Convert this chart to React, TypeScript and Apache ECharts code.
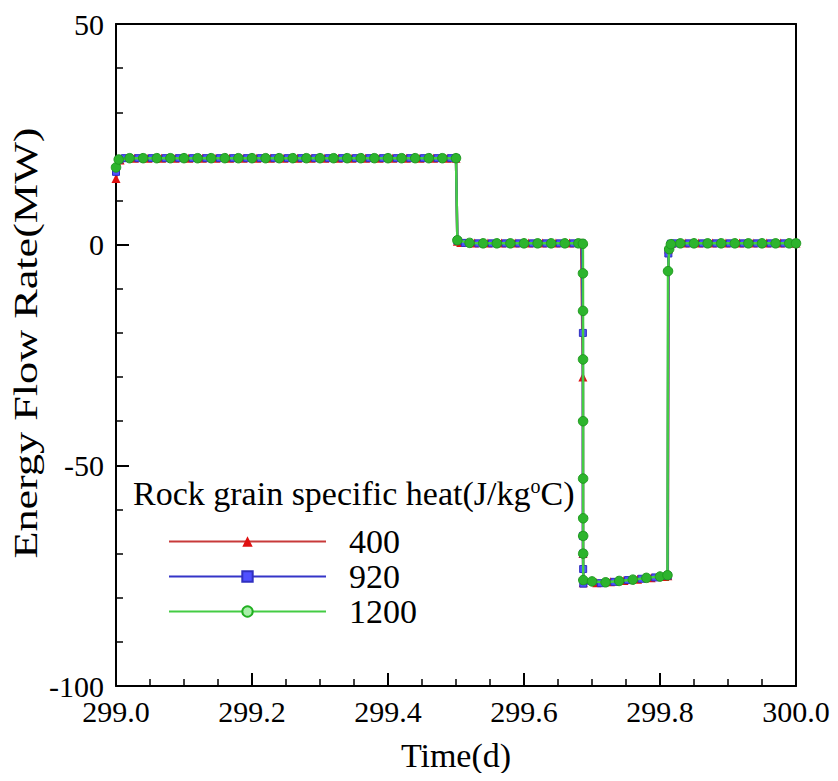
import React, { useEffect, useRef } from "react";
import * as echarts from "echarts";

// Rock grain specific heat = 400 J/kg°C
const t400 = [
  299.0, 299.006, 299.027, 299.047, 299.067, 299.087, 299.107, 299.127, 299.147, 299.167, 299.187,
  299.207, 299.227, 299.247, 299.267, 299.287, 299.307, 299.327, 299.347, 299.367, 299.387,
  299.407, 299.427, 299.447, 299.467, 299.487, 299.5, 299.502, 299.507, 299.527, 299.547,
  299.567, 299.587, 299.607, 299.627, 299.647, 299.667, 299.684, 299.6866, 299.6868, 299.6872,
  299.707, 299.727, 299.747, 299.767, 299.787, 299.807, 299.8115, 299.8125, 299.817, 299.837,
  299.857, 299.877, 299.897, 299.917, 299.937, 299.957, 299.977, 299.997, 300.0,
];
const v400 = [
  15.0, 19.2, 19.6, 19.6, 19.6, 19.6, 19.6, 19.6, 19.6, 19.6, 19.6,
  19.6, 19.6, 19.6, 19.6, 19.6, 19.6, 19.6, 19.6, 19.6, 19.6,
  19.6, 19.6, 19.6, 19.6, 19.6, 19.6, 0.8, 0.5, 0.4, 0.4,
  0.4, 0.4, 0.4, 0.4, 0.4, 0.4, 0.4, -30.0, -70.0, -76.6,
  -76.6, -76.4, -76.1, -75.8, -75.5, -75.2, -75.0, -1.0, 0.3, 0.4,
  0.4, 0.4, 0.4, 0.4, 0.4, 0.4, 0.4, 0.4, 0.4,
];

// Rock grain specific heat = 920 J/kg°C
const t920 = [
  299.0, 299.005, 299.013, 299.033, 299.053, 299.073, 299.093, 299.113, 299.133, 299.153, 299.173,
  299.193, 299.213, 299.233, 299.253, 299.273, 299.293, 299.313, 299.333, 299.353, 299.373,
  299.393, 299.413, 299.433, 299.453, 299.473, 299.493, 299.5, 299.502, 299.513, 299.533,
  299.553, 299.573, 299.593, 299.613, 299.633, 299.653, 299.673, 299.685, 299.6866, 299.6867,
  299.6868, 299.6870, 299.6872, 299.713, 299.733, 299.753, 299.773, 299.793, 299.8113, 299.8123,
  299.816, 299.823, 299.843, 299.863, 299.883, 299.903, 299.923, 299.943, 299.963, 299.983, 300.0,
];
const v920 = [
  16.5, 19.3, 19.6, 19.6, 19.6, 19.6, 19.6, 19.6, 19.6, 19.6, 19.6,
  19.6, 19.6, 19.6, 19.6, 19.6, 19.6, 19.6, 19.6, 19.6, 19.6,
  19.6, 19.6, 19.6, 19.6, 19.6, 19.6, 19.6, 0.9, 0.4, 0.3,
  0.3, 0.3, 0.3, 0.3, 0.3, 0.3, 0.3, 0.3, -20.0, -66.0,
  -70.0, -73.5, -76.8, -76.7, -76.4, -76.0, -75.7, -75.4, -75.0, -2.0,
  0.2, 0.3, 0.3, 0.3, 0.3, 0.3, 0.3, 0.3, 0.3, 0.3, 0.3,
];

// Rock grain specific heat = 1200 J/kg°C
const t1200 = [
  299.0, 299.004, 299.02, 299.04, 299.06, 299.08, 299.1, 299.12, 299.14, 299.16, 299.18,
  299.2, 299.22, 299.24, 299.26, 299.28, 299.3, 299.32, 299.34, 299.36, 299.38,
  299.4, 299.42, 299.44, 299.46, 299.48, 299.5, 299.502, 299.52, 299.54, 299.56,
  299.58, 299.6, 299.62, 299.64, 299.66, 299.68, 299.6866, 299.6867, 299.6868, 299.6868,
  299.6869, 299.6869, 299.687, 299.687, 299.687, 299.6872, 299.7, 299.72, 299.74, 299.76,
  299.78, 299.8, 299.811, 299.8118, 299.8135, 299.816, 299.83, 299.85, 299.87, 299.89,
  299.91, 299.93, 299.95, 299.97, 299.99, 300.0,
];
const v1200 = [
  17.5, 19.3, 19.6, 19.6, 19.6, 19.6, 19.6, 19.6, 19.6, 19.6, 19.6,
  19.6, 19.6, 19.6, 19.6, 19.6, 19.6, 19.6, 19.6, 19.6, 19.6,
  19.6, 19.6, 19.6, 19.6, 19.6, 19.6, 1.0, 0.4, 0.3, 0.3,
  0.3, 0.3, 0.3, 0.3, 0.3, 0.3, 0.2, -6.5, -15.0, -26.0,
  -40.0, -53.0, -62.0, -66.0, -70.0, -76.0, -76.3, -76.5, -76.2, -75.9,
  -75.5, -75.2, -74.9, -6.0, -1.0, 0.1, 0.3, 0.3, 0.3, 0.3,
  0.3, 0.3, 0.3, 0.3, 0.3, 0.3,
];

const seriesNames = ["400", "920", "1200"];
const xTicks = { min: 299.0, max: 300.0, interval: 0.2 };
const yTicks = { min: -100, max: 50, interval: 50 };
const yTitle = "Energy Flow Rate(MW)";
const xTitle = "Time(d)";

const FONT = "Liberation Serif";

function pairs(t: number[], v: number[]) {
  return t.map((x, i) => [x, v[i]]);
}

export default function App() {
  const ref = useRef<HTMLDivElement>(null);
  useEffect(() => {
    if (!ref.current) return;
    const chart = echarts.init(ref.current, undefined, { renderer: "svg" });
    const labelRich = { a: { fontFamily: FONT, fontSize: 30, color: "#000" } };
    const axisCommon = {
      axisLine: { show: true, onZero: false, lineStyle: { color: "#000", width: 2 } },
      axisTick: { show: true, inside: true, length: 13, lineStyle: { color: "#000", width: 2 } },
      minorTick: { show: true, length: 7, lineStyle: { color: "#000", width: 1.5 } },
      splitLine: { show: false },
      minorSplitLine: { show: false },
      nameTextStyle: { color: "#000", fontFamily: FONT, fontSize: 34 },
    };
    chart.setOption({
      animation: false,
      backgroundColor: "#fff",
      textStyle: { fontFamily: FONT, color: "#000" },
      grid: { left: 116, right: 42, top: 24, bottom: 95, containLabel: false, outerBoundsMode: "none" },
      title: {
        text: "Rock grain specific heat(J/kg{sup|o}C)",
        left: 128,
        top: 471,
        textStyle: {
          color: "#000",
          fontFamily: FONT,
          fontSize: 34,
          fontWeight: "normal",
          rich: { sup: { fontSize: 20, verticalAlign: "top", fontFamily: FONT, color: "#000", padding: [0, 0, 14, 0] } },
        },
      },
      legend: {
        orient: "vertical",
        left: 163,
        top: 519,
        itemWidth: 157,
        itemHeight: 13,
        itemGap: 0,
        data: [
          { name: "400" },
          { name: "920" },
          { name: "1200", itemStyle: { color: "#aaf0aa", borderColor: "#22b022", borderWidth: 2 } },
        ],
        textStyle: { color: "#000", fontFamily: FONT, fontSize: 34, lineHeight: 35, padding: [0, 0, 0, 18] },
      },
      graphic: [
        {
          type: "text",
          x: 26,
          y: 343,
          rotation: Math.PI / 2,
          scaleX: 1.3,
          style: {
            text: yTitle,
            fontFamily: FONT,
            fontSize: 34,
            fill: "#000",
            align: "center",
            verticalAlign: "middle",
          },
        },
      ],
      xAxis: [
        {
          type: "value",
          ...xTicks,
          ...axisCommon,
          minorTick: { ...axisCommon.minorTick, splitNumber: 4 },
          axisLabel: {
            margin: 10,
            color: "#000",
            fontFamily: FONT,
            fontSize: 30,
            formatter: (v: number) => `{a|${v.toFixed(1)}}`,
            rich: labelRich,
          },
          name: xTitle,
          nameLocation: "middle",
          nameGap: 52,
        },
        {
          type: "value",
          position: "top",
          ...xTicks,
          axisLine: { show: true, onZero: false, lineStyle: { color: "#000", width: 2 } },
          axisTick: { show: false },
          axisLabel: { show: false },
          splitLine: { show: false },
        },
      ],
      yAxis: [
        {
          type: "value",
          ...yTicks,
          ...axisCommon,
          minorTick: { ...axisCommon.minorTick, splitNumber: 5 },
          axisLabel: {
            margin: 12,
            color: "#000",
            fontFamily: FONT,
            fontSize: 30,
            formatter: (v: number) => `{a|${v}}`,
            rich: labelRich,
          },
        },
        {
          type: "value",
          position: "right",
          ...yTicks,
          axisLine: { show: true, onZero: false, lineStyle: { color: "#000", width: 2 } },
          axisTick: { show: false },
          axisLabel: { show: false },
          splitLine: { show: false },
        },
      ],
      series: [
        {
          name: seriesNames[0],
          type: "line",
          data: pairs(t400, v400),
          symbol: "triangle",
          symbolSize: 9,
          lineStyle: { color: "#c83a3a", width: 2.5 },
          itemStyle: { color: "#e01010" },
          z: 2,
        },
        {
          name: seriesNames[1],
          type: "line",
          data: pairs(t920, v920),
          symbol: "rect",
          symbolSize: 7,
          lineStyle: { color: "#3535c8", width: 2.5 },
          itemStyle: { color: "#5050ff", borderColor: "#3030c0", borderWidth: 1 },
          z: 3,
        },
        {
          name: seriesNames[2],
          type: "line",
          data: pairs(t1200, v1200),
          symbol: "circle",
          symbolSize: 9.5,
          lineStyle: { color: "#44cc44", width: 2.5 },
          itemStyle: { color: "#2db42d", borderColor: "#1f9a1f", borderWidth: 1 },
          z: 4,
        },
      ],
    });
    return () => chart.dispose();
  }, []);
  return <div ref={ref} style={{ width: 838, height: 781, margin: -8 }} />;
}
